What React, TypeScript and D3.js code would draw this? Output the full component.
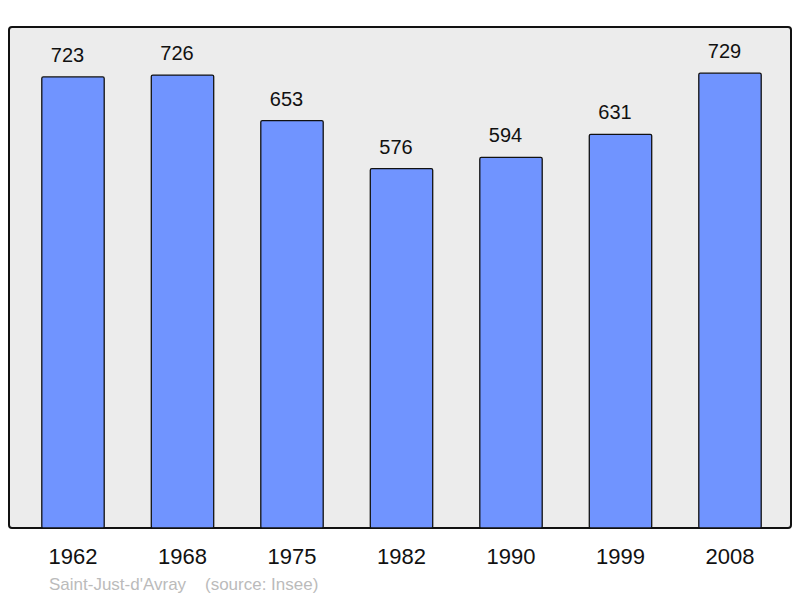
import React from "react";
import * as d3 from "d3";

const years = ["1962", "1968", "1975", "1982", "1990", "1999", "2008"];
const population = [723, 726, 653, 576, 594, 631, 729];
const caption = "Saint-Just-d'Avray\u00a0\u00a0\u00a0\u00a0(source: Insee)";

export default function App() {
  const W = 800, H = 598;
  const frame = { x: 9, y: 27, w: 782, h: 501 };
  const x = d3.scaleBand<string>().domain(years).range([18.25, 784.75]).paddingInner(0.43).paddingOuter(0.215);
  const y = d3.scaleLinear().domain([0, 803]).range([528, 27]);
  const font = "'Liberation Sans', Arial, sans-serif";
  return (
    <svg width={W} height={H} style={{ position: "absolute", left: 0, top: 0 }}>
      <rect x={frame.x} y={frame.y} width={frame.w} height={frame.h} rx={3} fill="#ececec" stroke="#111" strokeWidth={2} />
      {years.map((yr, i) => {
        const v = population[i];
        const bx = x(yr)!;
        const bw = x.bandwidth();
        return (
          <g key={yr}>
            <rect x={bx} y={y(v)} width={bw} height={528 - y(v)} rx={1.5} fill="#7094ff" stroke="#111" strokeWidth={1.3} />
            <text x={bx + bw / 2 - 5.5} y={y(v) - 15} textAnchor="middle" fontFamily={font} fontSize={20} fill="#111">{v}</text>
            <text x={bx + bw / 2} y={564} textAnchor="middle" fontFamily={font} fontSize={22} fill="#111">{yr}</text>
          </g>
        );
      })}
      <text x={49} y={590} fontFamily={font} fontSize={17} fill="#bbbbbb">{caption}</text>
    </svg>
  );
}
